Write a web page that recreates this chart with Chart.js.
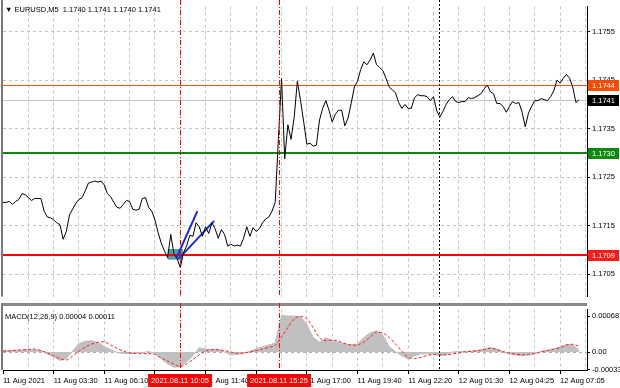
<!DOCTYPE html>
<html>
<head>
<meta charset="utf-8">
<script src="https://cdn.jsdelivr.net/npm/chart.js@4.4.1/dist/chart.umd.min.js"></script>
<style>
  html, body { margin: 0; padding: 0; background: #fff; }
  #wrap { position: relative; width: 620px; height: 388px; }
  #priceBox { position: absolute; left: 0; top: 0; width: 620px; height: 303px; }
  #macdBox { position: absolute; left: 0; top: 303px; width: 620px; height: 85px; }
</style>
</head>
<body>
<div id="wrap">
  <div id="priceBox"><canvas id="priceChart"></canvas></div>
  <div id="macdBox"><canvas id="macdChart"></canvas></div>
</div>
<script>
// EURUSD M5, one point = two bars (10 min)
const closes = [
  1.17198,1.17198,1.17200,1.17194,1.17200,1.17204,1.17216,1.17214,1.17208,1.17202,
  1.17206,1.17206,1.17206,1.17180,1.17168,1.17166,1.17162,1.17156,1.17152,1.17122,
  1.17138,1.17172,1.17184,1.17196,1.17204,1.17208,1.17222,1.17238,1.17240,1.17242,
  1.17240,1.17242,1.17234,1.17216,1.17210,1.17198,1.17188,1.17186,1.17194,1.17202,
  1.17200,1.17184,1.17182,1.17184,1.17206,1.17208,1.17188,1.17180,1.17162,1.17136,
  1.17114,1.17098,1.17084,1.17132,1.17092,1.17082,1.17064,1.17094,1.17108,1.17130,
  1.17128,1.17156,1.17148,1.17128,1.17148,1.17134,1.17156,1.17144,1.17124,1.17142,
  1.17132,1.17108,1.17112,1.17108,1.17110,1.17108,1.17124,1.17148,1.17128,1.17146,
  1.17138,1.17144,1.17156,1.17164,1.17168,1.17180,1.17198,1.17328,1.17454,1.17288,
  1.17358,1.17328,1.17374,1.17448,1.17408,1.17364,1.17318,1.17320,1.17314,1.17316,
  1.17368,1.17392,1.17408,1.17388,1.17364,1.17380,1.17388,1.17388,1.17356,1.17372,
  1.17402,1.17436,1.17448,1.17472,1.17488,1.17482,1.17492,1.17506,1.17482,1.17476,
  1.17470,1.17454,1.17436,1.17430,1.17424,1.17404,1.17392,1.17400,1.17392,1.17392,
  1.17414,1.17420,1.17418,1.17418,1.17416,1.17408,1.17416,1.17388,1.17374,1.17386,
  1.17400,1.17410,1.17416,1.17406,1.17404,1.17406,1.17406,1.17414,1.17412,1.17414,
  1.17418,1.17422,1.17432,1.17440,1.17426,1.17422,1.17402,1.17402,1.17396,1.17384,
  1.17396,1.17406,1.17402,1.17404,1.17384,1.17354,1.17382,1.17396,1.17408,1.17408,
  1.17412,1.17410,1.17408,1.17416,1.17428,1.17450,1.17444,1.17454,1.17462,1.17454,
  1.17436,1.17404,1.17410
];

// MACD(12,26,9), every second point
const macdStep = 2;
const macdMain = [
  0.000027,0.000027,0.000036,0.000036,0.000045,0.000045,0.000027,-0.000036,-0.000090,-0.000161,
  -0.000125,0.000018,0.000161,0.000206,0.000215,0.000179,0.000107,0.000045,-0.000009,-0.000030,
  -0.000030,-0.000018,-0.000009,0.000009,-0.000027,-0.000125,-0.000224,-0.000286,-0.000277,-0.000188,
  -0.000072,0.000081,0.000054,0.000054,0.000054,0,-0.000054,-0.000045,-0.000027,0.000018,
  0.000063,0.000098,0.000134,0.000170,0.000698,0.000680,0.000680,0.000671,0.000519,0.000277,
  0.000188,0.000269,0.000215,0.000179,0.000152,0.000138,0.000152,0.000277,0.000367,0.000403,
  0.000322,0.000107,0.000009,-0.000072,-0.000131,-0.000072,-0.000036,-0.000030,-0.000039,-0.000077,
  -0.000045,0,0.000013,0.000009,0.000018,0.000030,0.000057,0.000084,0.000057,0,
  -0.000036,-0.000054,-0.000068,-0.000057,-0.000027,0.000014,0.000036,0.000057,0.000098,0.000143,
  0.000138,0.000040
];
const macdSignal = [
  0.000018,0.000021,0.000030,0.000039,0.000048,0.000054,0.000027,-0.000018,-0.000072,-0.000125,
  -0.000152,-0.000077,0.000018,0.000093,0.000152,0.000183,0.000193,0.000134,0.000072,0.000018,
  -0.000018,-0.000030,-0.000030,-0.000030,-0.000045,-0.000113,-0.000170,-0.000229,-0.000277,-0.000224,
  -0.000143,-0.000054,0.000021,0.000045,0.000045,0.000025,0,-0.000023,-0.000018,0,
  0.000027,0.000057,0.000090,0.000125,0.000286,0.000465,0.000627,0.000675,0.000627,0.000460,
  0.000269,0.000215,0.000227,0.000204,0.000161,0.000132,0.000134,0.000188,0.000286,0.000376,
  0.000358,0.000277,0.000152,0.000018,-0.000102,-0.000125,-0.000102,-0.000063,-0.000045,-0.000048,
  -0.000054,-0.000036,-0.000018,0.000005,0.000014,0.000025,0.000045,0.000072,0.000048,0.000009,
  -0.000021,-0.000041,-0.000054,-0.000047,-0.000030,0,0.000027,0.000054,0.000082,0.000134,
  0.000147,0.000110
];

const priceTicks = [1.1705, 1.1715, 1.1725, 1.1735, 1.1745, 1.1755];
const macdTicks = [-0.00033, 0, 0.00068];
const macdTickLabels = ['-0.00033', '0.00', '0.00068'];
const timeLabels = ['11 Aug 2021', '11 Aug 03:30', '11 Aug 06:10', '11 Aug 08:50', '11 Aug 11:40', '11 Aug 14:20',
  '11 Aug 17:00', '11 Aug 19:40', '11 Aug 22:20', '12 Aug 01:30', '12 Aug 04:25', '12 Aug 07:05'];

// horizontal levels: resistance, bid, target, support
const levelPrices = [1.1744, 1.1741, 1.1730, 1.1709];
// vertical event lines (in points) and their time tags
const eventIdx = [55.9, 87.2];
const eventLabels = ['2021.08.11 10:05', '2021.08.11 15:25'];
const cursorIdx = 137.8;
// drawn objects: two trend lines and an entry zone
const trendA = [[54.9, 1.17085], [61.4, 1.17180]];
const trendB = [[55.4, 1.17081], [66.7, 1.17160]];
const zoneIdx = [52.0, 56.9];
const zonePrice = [1.17080, 1.17102];

const headerText = '\u25BC EURUSD,M5  1.1740 1.1741 1.1740 1.1741';
const macdText = 'MACD(12,26,9) 0.00004 0.00011';

const FONT = "'Liberation Sans', 'DejaVu Sans', sans-serif";
const FSIZE = 7.5;
const levelStyles = [
  { line: '#ff4d1a', width: 1, box: '#ff4a00' },
  { line: '#c4c4c4', width: 1, box: '#000000' },
  { line: '#008a00', width: 2, box: '#0b8a0b' },
  { line: '#ff0000', width: 2, box: '#ff1a1a' }
];
const X_MAX = 184.5;

function gridDash() { return [3, 3]; }

// vertical lines through both panes
const markerLines = {
  id: 'markerLines',
  afterDatasetsDraw(chart) {
    const { ctx, chartArea: a, scales: { x } } = chart;
    ctx.save();
    ctx.lineWidth = 1;
    ctx.strokeStyle = '#ff0000';
    ctx.setLineDash([5, 2, 1, 2]);
    eventIdx.forEach(v => {
      const px = Math.round(x.getPixelForValue(v)) + 0.5;
      ctx.beginPath(); ctx.moveTo(px, 0); ctx.lineTo(px, a.bottom); ctx.stroke();
    });
    ctx.strokeStyle = '#000';
    ctx.setLineDash([2, 2]);
    const cx = Math.round(x.getPixelForValue(cursorIdx)) + 0.5;
    ctx.beginPath(); ctx.moveTo(cx, 0); ctx.lineTo(cx, a.bottom); ctx.stroke();
    ctx.restore();
  },
  afterDraw(chart) {
    const { ctx, chartArea: a } = chart;
    ctx.save();
    ctx.fillStyle = '#7a7a7a';
    ctx.fillRect(a.left - 2, 0, 2, a.bottom);
    ctx.restore();
  }
};

const priceOverlay = {
  id: 'priceOverlay',
  beforeDatasetsDraw(chart) {
    const { ctx, chartArea: a, scales: { x, y } } = chart;
    ctx.save();
    const x0 = x.getPixelForValue(zoneIdx[0]), x1 = x.getPixelForValue(zoneIdx[1]);
    const y0 = y.getPixelForValue(zonePrice[1]), y1 = y.getPixelForValue(zonePrice[0]);
    ctx.fillStyle = '#4f9ca5';
    ctx.fillRect(x0, y0, x1 - x0, y1 - y0);
    levelPrices.forEach((p, i) => {
      const st = levelStyles[i];
      const py = Math.round(y.getPixelForValue(p)) + (st.width % 2 ? 0.5 : 0);
      ctx.strokeStyle = st.line;
      ctx.lineWidth = st.width;
      ctx.beginPath(); ctx.moveTo(a.left, py); ctx.lineTo(a.right, py); ctx.stroke();
    });
    ctx.restore();
  },
  afterDraw(chart) {
    const { ctx, chartArea: a, scales: { y } } = chart;
    ctx.save();
    ctx.font = FSIZE + 'px ' + FONT;
    ctx.textBaseline = 'middle';
    levelPrices.forEach((p, i) => {
      const py = Math.round(y.getPixelForValue(p));
      ctx.fillStyle = levelStyles[i].box;
      ctx.fillRect(a.right + 1, py - 5, 31, 11);
      ctx.fillStyle = '#fff';
      ctx.fillText(p.toFixed(4), a.right + 5, py + 0.5);
    });
    ctx.fillStyle = '#000';
    ctx.fillText(headerText, a.left + 2, 10);
    ctx.restore();
  }
};

const macdOverlay = {
  id: 'macdOverlay',
  beforeDraw(chart) {
    const { ctx, chartArea: a } = chart;
    ctx.save();
    ctx.fillStyle = '#fff';
    ctx.fillRect(0, 0, chart.width, chart.height);
    ctx.fillStyle = '#8a8a8a';
    ctx.fillRect(a.left, 0, a.right - a.left, 3);
    ctx.restore();
  },
  afterDraw(chart) {
    const { ctx, chartArea: a, scales: { x } } = chart;
    ctx.save();
    ctx.font = FSIZE + 'px ' + FONT;
    ctx.textBaseline = 'middle';
    ctx.fillStyle = '#000';
    ctx.fillText(macdText, a.left + 2, a.top + 7);
    ctx.textAlign = 'center';
    eventIdx.forEach((v, i) => {
      const px = Math.round(x.getPixelForValue(v));
      const w = ctx.measureText(eventLabels[i]).width + 6;
      ctx.fillStyle = '#ff0000';
      ctx.fillRect(px - w / 2, a.bottom + 4, w, 13);
      ctx.fillStyle = '#fff';
      ctx.fillText(eventLabels[i], px, a.bottom + 10.5);
    });
    ctx.restore();
  }
};

const xGrid = {
  color: ctx => (ctx.tick && ctx.tick.value === 0) ? 'rgba(0,0,0,0)' : '#c4c4c4',
  lineWidth: 1
};

new Chart(document.getElementById('priceChart'), {
  type: 'line',
  data: {
    datasets: [
      {
        data: closes.map((c, i) => ({ x: i, y: c })),
        borderColor: '#000', borderWidth: 1, pointRadius: 0, tension: 0
      },
      {
        data: trendA.map(p => ({ x: p[0], y: p[1] })),
        borderColor: '#1a2be6', borderWidth: 2, pointRadius: 0
      },
      {
        data: trendB.map(p => ({ x: p[0], y: p[1] })),
        borderColor: '#1a2be6', borderWidth: 2, pointRadius: 0
      }
    ]
  },
  options: {
    responsive: true, maintainAspectRatio: false, animation: false, devicePixelRatio: 1,
    layout: { padding: { left: 3, top: 3, right: 0, bottom: 1 } },
    plugins: { legend: { display: false }, tooltip: { enabled: false } },
    scales: {
      x: {
        type: 'linear', min: 0, max: X_MAX,
        ticks: { display: false, stepSize: 8, includeBounds: false },
        grid: { ...xGrid, drawTicks: false },
        border: { display: false, dash: gridDash() },
        afterFit: s => { s.height = 0; }
      },
      y: {
        position: 'right', min: 1.17004, max: 1.17602,
        afterBuildTicks: s => { s.ticks = priceTicks.map(v => ({ value: v })); },
        ticks: {
          callback: v => Number(v).toFixed(4),
          color: '#000', font: { family: FONT, size: FSIZE }, padding: 2
        },
        grid: { color: '#c4c4c4', tickColor: '#000', tickLength: 3, tickBorderDash: [] },
        border: { color: '#000', dash: gridDash() },
        afterFit: s => { s.width = 33; }
      }
    }
  },
  plugins: [priceOverlay, markerLines]
});

new Chart(document.getElementById('macdChart'), {
  type: 'line',
  data: {
    datasets: [
      {
        data: macdSignal.map((v, k) => ({ x: k * macdStep, y: v })),
        borderColor: '#ff2020', borderWidth: 1, borderDash: [3, 2], pointRadius: 0, tension: 0.3
      },
      {
        // histogram, drawn as a filled area like the terminal's dense bars
        data: macdMain.map((v, k) => ({ x: k * macdStep, y: v })),
        backgroundColor: '#c0c0c0', borderColor: '#c0c0c0', borderWidth: 1,
        fill: 'origin', pointRadius: 0, tension: 0
      }
    ]
  },
  options: {
    responsive: true, maintainAspectRatio: false, animation: false, devicePixelRatio: 1,
    layout: { padding: { left: 3, top: 3, right: 0, bottom: 0 } },
    plugins: { legend: { display: false }, tooltip: { enabled: false } },
    scales: {
      x: {
        type: 'linear', min: 0, max: X_MAX, offset: false,
        ticks: {
          stepSize: 8, includeBounds: false, autoSkip: false, maxRotation: 0,
          align: 'start', padding: 2,
          callback: v => (v % 16 === 0 ? timeLabels[v / 16] : ''),
          color: '#000', font: { family: FONT, size: FSIZE }
        },
        grid: {
          ...xGrid, tickLength: 4, tickBorderDash: [],
          tickColor: ctx => (ctx.tick && ctx.tick.value % 16 === 0) ? '#000' : 'rgba(0,0,0,0)'
        },
        border: { color: '#000', dash: gridDash() },
        afterFit: s => { s.height = 18; }
      },
      y: {
        position: 'right', min: -0.00034, max: 0.000805,
        afterBuildTicks: s => { s.ticks = macdTicks.map(v => ({ value: v })); },
        ticks: {
          callback: (v, i) => macdTickLabels[i],
          color: '#000', font: { family: FONT, size: FSIZE }, padding: 2
        },
        grid: {
          color: ctx => (ctx.tick && ctx.tick.value === 0) ? '#b0b0b0' : 'rgba(0,0,0,0)',
          tickColor: '#000', tickLength: 3, tickBorderDash: []
        },
        border: { color: '#000', dash: gridDash() },
        afterFit: s => { s.width = 33; }
      }
    }
  },
  plugins: [macdOverlay, markerLines]
});
</script>
</body>
</html>
